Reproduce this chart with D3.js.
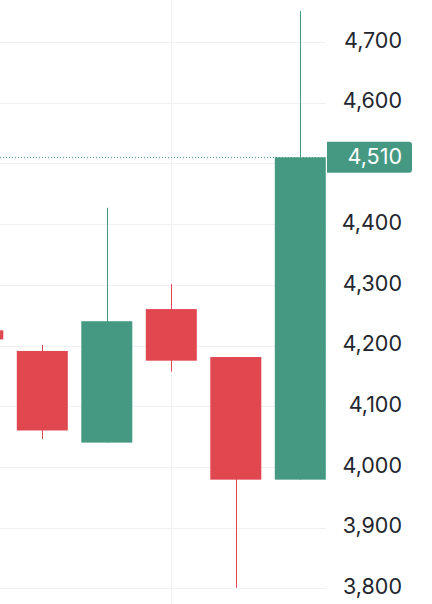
<!DOCTYPE html>
<html><head><meta charset="utf-8">
<script src="https://cdn.jsdelivr.net/npm/d3@7"></script>
<style>html,body{margin:0;padding:0;background:#fff;}svg{display:block;}</style>
</head><body>
<svg id="c" width="432" height="604"></svg>
<script>
const candleIndex = [0, 1, 2, 3, 4, 5];
const openVals  = [4225, 4191, 4040, 4260, 4181, 3979];
const highVals  = [4228, 4201, 4427, 4301, 4181, 4751];
const lowVals   = [4207, 4046, 4040, 4157, 3801, 3979];
const closeVals = [4210, 4060, 4240, 4175, 3979, 4510];
const tickVals  = [3800, 3900, 4000, 4100, 4200, 4300, 4400, 4500, 4600, 4700];
const lastPrice = 4510;
const verticalGridAt = [3];

const up = "#459983", down = "#e0474f", grid = "#f0f1f4";
const svg = d3.select("#c");
const plotRight = 326;

const y = d3.scaleLinear().domain([3800, 4700]).range([588.3, 42]);
const x = d3.scaleLinear().domain([1, 5]).range([42.3, 300.3]);
const bw = 51;

const fmt = d3.format(",");

// horizontal grid
svg.append("g").selectAll("line").data(tickVals).join("line")
  .attr("x1", 0).attr("x2", plotRight)
  .attr("y1", d => Math.round(y(d)) + 0.5).attr("y2", d => Math.round(y(d)) + 0.5)
  .attr("stroke", grid).attr("stroke-width", 1);
// vertical grid
svg.append("g").selectAll("line").data(verticalGridAt).join("line")
  .attr("x1", d => Math.round(x(d)) + 0.5).attr("x2", d => Math.round(x(d)) + 0.5)
  .attr("y1", 0).attr("y2", 604)
  .attr("stroke", grid).attr("stroke-width", 1);

// last price dotted line
svg.append("line")
  .attr("x1", 0).attr("x2", plotRight)
  .attr("y1", Math.round(y(lastPrice)) + 0.5).attr("y2", Math.round(y(lastPrice)) + 0.5)
  .attr("stroke", up).attr("stroke-width", 1).attr("stroke-dasharray", "1,2");

const data = candleIndex.map(i => ({i, o: openVals[i], h: highVals[i], l: lowVals[i], c: closeVals[i]}));
svg.append("clipPath").attr("id", "pc").append("rect")
  .attr("x", 0).attr("y", 0).attr("width", plotRight).attr("height", 604);

const g = svg.append("g").attr("clip-path", "url(#pc)");
const cg = g.selectAll("g").data(data).join("g");
cg.append("line")
  .attr("x1", d => Math.round(x(d.i)) + 0.5).attr("x2", d => Math.round(x(d.i)) + 0.5)
  .attr("y1", d => y(d.h)).attr("y2", d => y(d.l))
  .attr("stroke", d => d.c >= d.o ? up : down).attr("stroke-width", 1);
cg.append("rect")
  .attr("x", d => x(d.i) - bw / 2).attr("width", bw)
  .attr("y", d => y(Math.max(d.o, d.c)))
  .attr("height", d => Math.max(1, y(Math.min(d.o, d.c)) - y(Math.max(d.o, d.c))))
  .attr("fill", d => d.c >= d.o ? up : down);

// axis labels
const labelTicks = tickVals.filter(t => t !== 4500);
svg.append("g").selectAll("text").data(labelTicks).join("text")
  .attr("x", 402).attr("y", d => y(d) - 2).attr("dy", "0.36em")
  .attr("text-anchor", "end")
  .attr("font-family", "Inter, 'Noto Sans', sans-serif")
  .attr("font-size", 21.5)
  .attr("fill", "#23262e")
  .text(d => fmt(d));

// last price badge
const by = y(lastPrice);
svg.append("path")
  .attr("d", `M327,${by - 15.5} H409 a3,3 0 0 1 3,3 V${by + 12.5} a3,3 0 0 1 -3,3 H327 Z`)
  .attr("fill", up);
svg.append("text")
  .attr("x", 402).attr("y", by - 1.5).attr("dy", "0.36em")
  .attr("text-anchor", "end")
  .attr("font-family", "Inter, 'Noto Sans', sans-serif")
  .attr("font-size", 21.5)
  .attr("fill", "#ffffff")
  .text(fmt(lastPrice));
</script>
</body></html>
